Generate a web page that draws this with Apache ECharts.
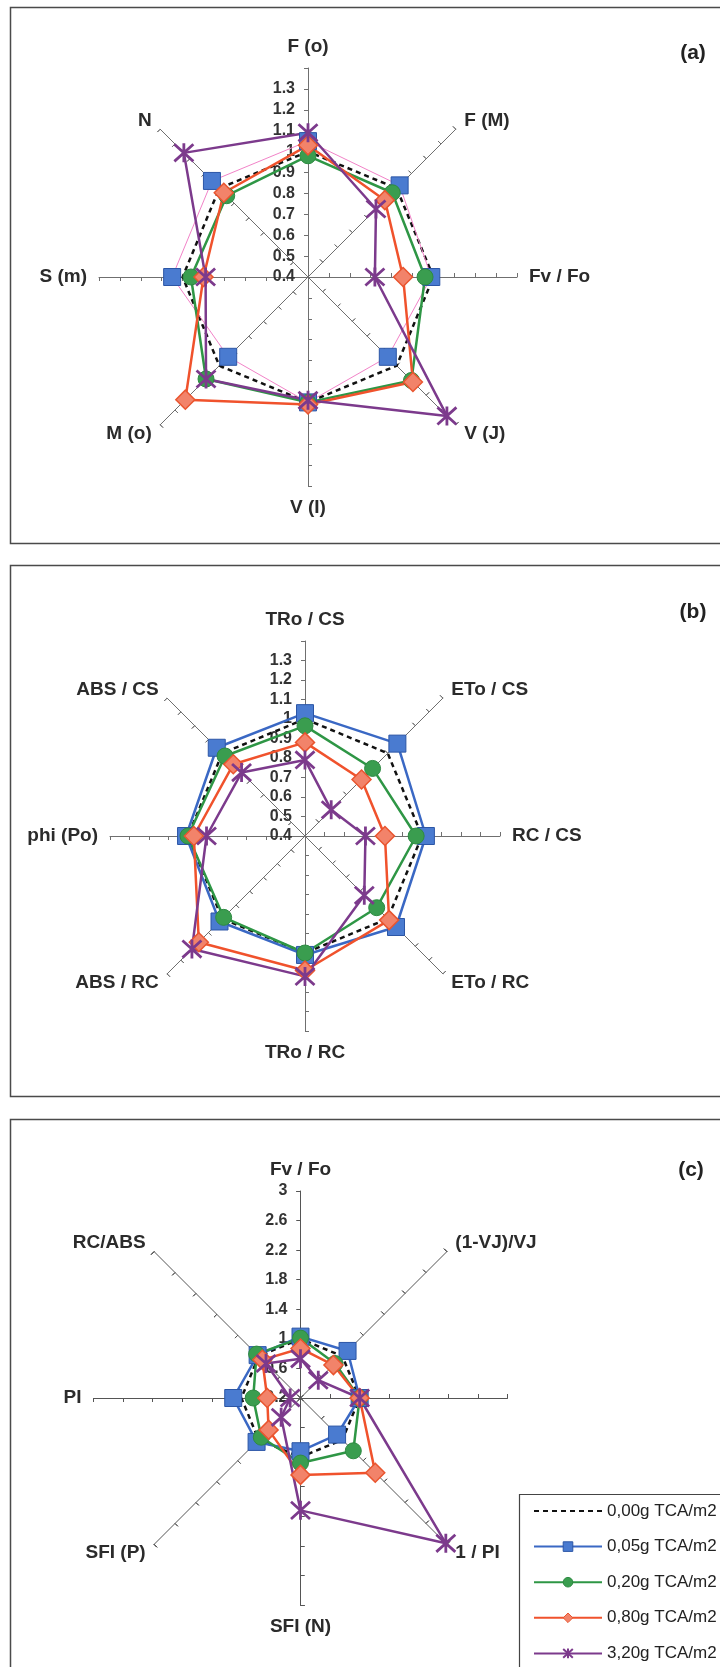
<!DOCTYPE html>
<html>
<head>
<meta charset="utf-8">
<script src="https://cdn.jsdelivr.net/npm/echarts@6/dist/echarts.min.js"></script>
<style>
  html, body { margin: 0; padding: 0; background: #fff; }
  #chart { width: 720px; height: 1667px; }
</style>
</head>
<body>
<div id="chart"></div>
<script>
// Treatment levels (legend entries)
const doses = ['0,00g TCA/m2', '0,05g TCA/m2', '0,20g TCA/m2', '0,80g TCA/m2', '3,20g TCA/m2'];

// Panel (a): spokes listed clockwise from the top
const axesA = ['F (o)', 'F (M)', 'Fv / Fo', 'V (J)', 'V (I)', 'M (o)', 'S (m)', 'N'];
const ctrlA = [1, 1, 1, 1, 1, 1, 1, 1];
const d005A = [1.05, 1.02, 0.99, 0.94, 1.00, 0.94, 1.05, 1.05];
const d020A = [0.98, 0.97, 0.96, 1.10, 1.00, 1.09, 0.96, 0.95];
const d080A = [1.03, 0.92, 0.855, 1.11, 1.01, 1.23, 0.90, 0.97];
const d320A = [1.09, 0.86, 0.72, 1.34, 0.99, 1.09, 0.89, 1.24];

// Panel (b)
const axesB = ['TRo / CS', 'ETo / CS', 'RC / CS', 'ETo / RC', 'TRo / RC', 'ABS / RC', 'phi (Po)', 'ABS / CS'];
const ctrlB = [1, 1, 1, 1, 1, 1, 1, 1];
const d005B = [1.03, 1.07, 1.02, 1.06, 1.01, 1.02, 1.01, 1.04];
const d020B = [0.965, 0.89, 0.97, 0.92, 1.00, 0.99, 1.00, 0.98];
const d080B = [0.88, 0.81, 0.81, 1.01, 1.09, 1.17, 0.97, 0.92];
const d320B = [0.79, 0.59, 0.71, 0.83, 1.12, 1.22, 0.905, 0.86];

// Panel (c)
const axesC = ['Fv / Fo', '(1-VJ)/VJ', '', '1 / PI', 'SFI (N)', 'SFI (P)', 'PI', 'RC/ABS'];
const ctrlC = [1, 1, 1, 1, 1, 1, 1, 1];
const d005C = [1.03, 1.10, 1.00, 0.90, 0.92, 1.04, 1.11, 1.02];
const d020C = [1.01, 0.86, 1.00, 1.21, 1.08, 0.95, 0.84, 1.04];
const d080C = [0.87, 0.83, 1.00, 1.63, 1.24, 0.81, 0.65, 0.93];
const d320C = [0.73, 0.54, 1.00, 2.98, 1.72, 0.57, 0.34, 0.86];

// Radial scales: [min, max, step]
const scaleAB = [0.4, 1.4, 0.1];
const scaleC = [0.2, 3.0, 0.4];

const FONT = 'Liberation Sans, Arial, sans-serif';
const STAR = 'path://M1,1L19,19M19,1L1,19M10,0L10,20';

// ECharts places radar indicators counter-clockwise; reorder the clockwise lists
const ccw = a => [a[0]].concat(a.slice(1).reverse());

const looks = [
  { symbol: 'none', size: 0, line: { color: '#111', width: 2.5, type: [5, 4] }, item: { color: '#111' } },
  { symbol: 'rect', size: 17, line: { color: '#3a68c4', width: 2.5 }, item: { color: '#4a7bd0', borderColor: '#2c56a6', borderWidth: 1 } },
  { symbol: 'circle', size: 16, line: { color: '#2e9645', width: 2.5 }, item: { color: '#3a9d4f', borderColor: '#2e8a42', borderWidth: 1 } },
  { symbol: 'diamond', size: 19, line: { color: '#f0522c', width: 2.5 }, item: { color: '#f2836a', borderColor: '#e9552f', borderWidth: 1.5 } },
  { symbol: STAR, size: 19, line: { color: '#7c3a8c', width: 2.5 }, item: { color: '#7c3a8c', borderColor: '#7c3a8c', borderWidth: 2.8 } }
];

const panels = [
  { names: axesA, sets: [ctrlA, d005A, d020A, d080A, d320A], cx: 308, cy: 277, r: 209, scale: scaleAB, hideTop: true, spoke: '#6f6f6f', blueLine: { color: '#f283c8', width: 1 } },
  { names: axesB, sets: [ctrlB, d005B, d020B, d080B, d320B], cx: 305, cy: 836, r: 195, scale: scaleAB, hideTop: true, spoke: '#6f6f6f' },
  { names: axesC, sets: [ctrlC, d005C, d020C, d080C, d320C], cx: 300.5, cy: 1398, r: 207, scale: scaleC, hideTop: false, spoke: '#555' }
];

const radar = [], grid = [], xAxis = [], yAxis = [], radarSeries = [];

panels.forEach((p, i) => {
  const [lo, hi, step] = p.scale;
  const split = Math.round((hi - lo) / step);
  const indicator = ccw(p.names).map(n => ({ name: n, min: lo, max: hi }));
  const base = {
    center: [p.cx, p.cy], radius: p.r, startAngle: 90, splitNumber: split,
    splitLine: { show: false }, splitArea: { show: false }, indicator: indicator
  };
  // spokes, names and outer half of the tick marks
  radar.push(Object.assign({}, base, {
    nameGap: 12,
    axisName: { color: '#2b2b2b', fontSize: 19, fontWeight: 'bold', fontFamily: FONT },
    axisLine: { show: true, lineStyle: { color: p.spoke, width: 1 } },
    axisTick: { show: true, length: 4, inside: false, lineStyle: { color: p.spoke, width: 1 } },
    axisLabel: { show: false }
  }));
  // inner half of the tick marks so they cross each spoke
  radar.push(Object.assign({}, base, {
    axisName: { show: false },
    axisLine: { show: false },
    axisTick: { show: true, length: 4, inside: true, lineStyle: { color: p.spoke, width: 1 } },
    axisLabel: { show: false }
  }));

  // value labels along the upper vertical spoke
  grid.push({ left: p.cx, top: p.cy - p.r, width: 1, height: p.r });
  xAxis.push({ gridIndex: i, type: 'value', show: false });
  yAxis.push({
    gridIndex: i, type: 'value', min: lo, max: hi, interval: step,
    axisLine: { show: false }, axisTick: { show: false }, splitLine: { show: false },
    axisLabel: {
      margin: 13, fontSize: 16, fontWeight: 'bold', color: '#333', fontFamily: FONT,
      formatter: v => (p.hideTop && v > hi - 1e-9) ? '' : String(Math.round(v * 100) / 100)
    }
  });

  p.sets.forEach((vals, k) => {
    const lk = looks[k];
    const line = (k === 1 && p.blueLine) ? p.blueLine : lk.line;
    radarSeries.push({
      type: 'radar', radarIndex: 2 * i, name: doses[k], silent: true,
      symbol: lk.symbol, symbolSize: lk.size,
      lineStyle: line, itemStyle: lk.item,
      data: [{ value: ccw(vals) }]
    });
  });
});

// empty line series carry the line-and-marker legend keys
const legendSeries = doses.map((d, k) => ({
  type: 'line', name: d, xAxisIndex: 0, yAxisIndex: 0, data: [],
  symbol: looks[k].symbol === 'none' ? 'circle' : looks[k].symbol,
  lineStyle: looks[k].line, itemStyle: looks[k].item
}));

const legendData = doses.map((d, k) => {
  const lk = looks[k];
  return {
    name: d,
    itemStyle: k === 0 ? { opacity: 0 } :
      { color: lk.item.color, borderColor: lk.item.borderColor, borderWidth: k === 4 ? 2 : 1, opacity: 1 },
    lineStyle: { color: lk.line.color, width: 2, type: k === 0 ? [5, 4] : 'solid', opacity: 1 }
  };
});

const option = {
  animation: false,
  backgroundColor: '#fff',
  radar: radar,
  grid: grid,
  xAxis: xAxis,
  yAxis: yAxis,
  legend: {
    orient: 'vertical', left: 533, top: 1502, padding: 0,
    itemWidth: 68, itemHeight: 12, itemGap: 17.6,
    textStyle: { fontSize: 17, color: '#222', fontFamily: FONT, lineHeight: 18 },
    data: legendData
  },
  graphic: [
    { type: 'rect', shape: { x: 10.5, y: 7.5, width: 730, height: 536 }, style: { fill: 'none', stroke: '#4a4a4a', lineWidth: 1.5 } },
    { type: 'rect', shape: { x: 10.5, y: 565.5, width: 730, height: 531 }, style: { fill: 'none', stroke: '#4a4a4a', lineWidth: 1.5 } },
    { type: 'rect', shape: { x: 10.5, y: 1119.5, width: 730, height: 600 }, style: { fill: 'none', stroke: '#4a4a4a', lineWidth: 1.5 } },
    { type: 'rect', shape: { x: 519.5, y: 1494.5, width: 240, height: 200 }, style: { fill: 'none', stroke: '#444', lineWidth: 1.2 } },
    { type: 'text', x: 693, y: 53, style: { text: '(a)', font: 'bold 21px ' + FONT, fill: '#222', textAlign: 'center', textVerticalAlign: 'middle' } },
    { type: 'text', x: 693, y: 612, style: { text: '(b)', font: 'bold 21px ' + FONT, fill: '#222', textAlign: 'center', textVerticalAlign: 'middle' } },
    { type: 'text', x: 691, y: 1170, style: { text: '(c)', font: 'bold 21px ' + FONT, fill: '#222', textAlign: 'center', textVerticalAlign: 'middle' } }
  ],
  series: legendSeries.concat(radarSeries)
};

const chart = echarts.init(document.getElementById('chart'), null, { renderer: 'canvas' });
chart.setOption(option);
</script>
</body>
</html>
